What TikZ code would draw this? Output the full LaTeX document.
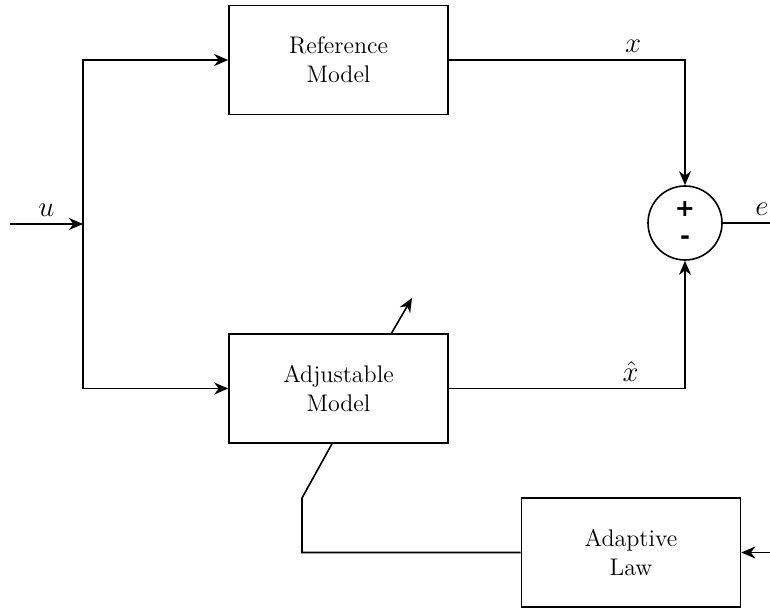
\documentclass[tikz,border=0pt]{standalone}
\usepackage{amsmath}
\usepackage{fontspec}
\usepackage{tikz}
\usetikzlibrary{arrows.meta,positioning}
\newfontfamily\signfont{DejaVu Sans}

\begin{document}
\begin{tikzpicture}[x=0.5pt,y=-0.5pt,->,>={Stealth[length=7pt,width=6pt,inset=2.2pt]},
	line width=0.8pt]
	\tikzstyle{block}=[draw,rectangle,minimum width=109.5pt,minimum height=54.5pt,
		align=center,font=\fontsize{12}{14.5}\selectfont]
	\tikzstyle{sig}=[font=\fontsize{15}{17}\selectfont]
	\useasboundingbox (0,0) rectangle (770,609);
	\node[block]         (R)  at (338.5,60)  {Reference\\Model};
	\node[block]         (A)  at (338.5,388.5) {Adjustable\\Model};
	\node[block]         (L)  at (631,552.5) {Adaptive\\Law};
	\node[draw,circle,minimum size=37pt,inner sep=0pt] (S) at (685,223) {};
	\node[font=\signfont\bfseries\large] at (685,209) {+};
	\node[font=\signfont\bfseries\large] at (685,240) {-};
	
	\coordinate (in)   at (10,224);
	\coordinate (br)   at (83,224);
	\coordinate (out)  at (770,223);
	\coordinate (lin)  at (770,552.5);
	\coordinate (tip)  at (412,298);
	\coordinate (sw)   at (302,498);
	
	\draw (in) -- node[above,sig] {$u$} (br);
	\draw (br) |- (R.west);
	\draw (br) |- (A.west);
	\draw (R.east) -- node[above,sig,pos=0.78] {$x$} (R.east -| S) -- (S.north);
	\draw (A.east) -- node[above,sig,pos=0.77] {$\hat{x}$} (A.east -| S) -- (S.south);
	\draw[-] (S.east) -- node[above,sig,pos=0.83] {$e$} (out);
	\draw (lin) -- (L.east);
	\draw ([xshift=26.5pt]A.north) -- (tip);
	\draw[-] ([xshift=-3.25pt]A.south) -- (sw) |- (L.west);
\end{tikzpicture}
\end{document}
